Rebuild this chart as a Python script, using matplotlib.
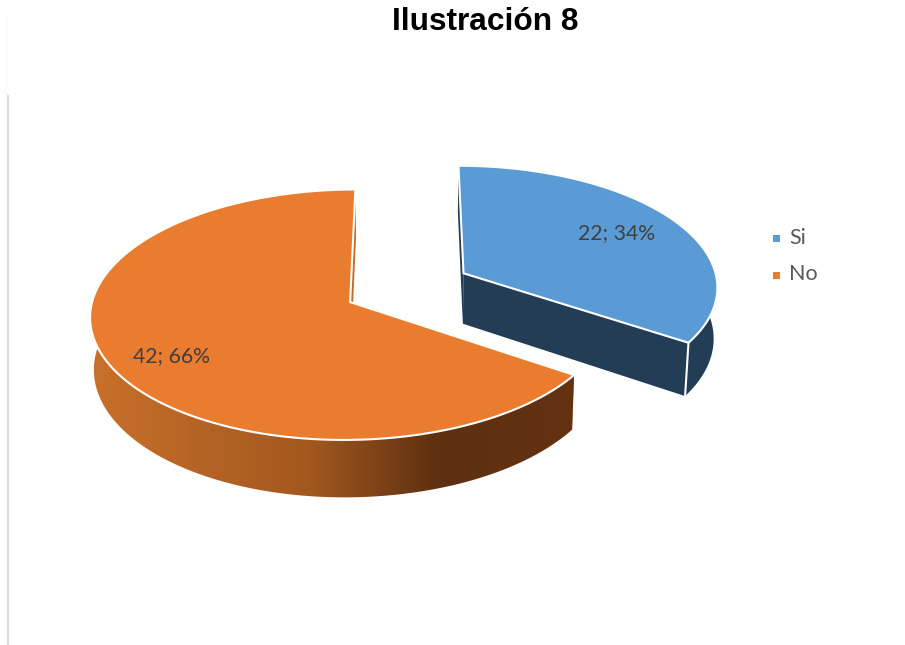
import numpy as np
import matplotlib
matplotlib.use("Agg")
import matplotlib.pyplot as plt
from matplotlib.patches import Polygon, Rectangle
from matplotlib.colors import LinearSegmentedColormap

labels = ["Si", "No"]
values = [22, 42]
title = "Ilustración 8"

top_colors = ["#5b9bd5", "#ea7c30"]
side_color = "#223d55"
cut_color = "#223d55"

# projection of the tilted pie, in pixels
X0, Y0 = 407.5, 287.5
R, S = 255.0, 121.0
K = 0.10
DEPTH = 51.0
SHRINK = 0.988
EXPLODE = 0.252


def project(u, v, lower=False):
    u = np.asarray(u, dtype=float)
    v = np.asarray(v, dtype=float)
    w = 1 + K * v
    x = R * u / w
    y = -S * v / w
    if lower:
        x = x * SHRINK
        y = y + DEPTH / w
    return np.column_stack([X0 + x, Y0 + y])


def arc(a0, a1, cu, cv, lower=False):
    a = np.radians(np.linspace(a0, a1, 200))
    return project(cu + np.sin(a), cv + np.cos(a), lower)


fig = plt.figure(figsize=(9.05, 6.45), dpi=100)
ax = fig.add_axes([0, 0, 1, 1])
ax.set_xlim(0, 905)
ax.set_ylim(645, 0)
ax.axis("off")

# remains of the chart frame on the left
ax.plot([8.3, 8.3], [95, 645], color="#dcdcdc", lw=1.6, solid_capstyle="butt")
ax.plot([6.3, 6.3], [15, 95], color="#f6f6f6", lw=0.8, solid_capstyle="butt")

total = sum(values)
fractions = [v / total for v in values]
edges = np.cumsum([0] + fractions) * 360

side_cmap = LinearSegmentedColormap.from_list(
    "orange_side",
    [(0.0, "#c8702b"), (0.45, "#a3581f"), (0.72, "#5e3010"), (1.0, "#63320f")],
)

# the larger slice goes first, the other one sits behind nothing
for i in [1, 0]:
    a0, a1 = edges[i], edges[i + 1]
    mid = np.radians((a0 + a1) / 2)
    cu, cv = EXPLODE * np.sin(mid), EXPLODE * np.cos(mid)

    apex = project([cu], [cv])
    apex_low = project([cu], [cv], True)
    start = arc(a0, a0, cu, cv)[:1]
    start_low = arc(a0, a0, cu, cv, True)[:1]
    end = arc(a1, a1, cu, cv)[:1]
    end_low = arc(a1, a1, cu, cv, True)[:1]

    # cut faces
    face_col = "#c46a28" if i == 1 else cut_color
    for p, p_low in [(start, start_low), (end, end_low)]:
        pts = np.vstack([apex, p, p_low, apex_low])
        ax.add_patch(Polygon(pts, closed=True, fc=face_col, ec="none", zorder=2))

    # outer wall, only the part facing the viewer
    wall_a0, wall_a1 = (a0, 285) if i == 1 else (85, a1)
    wall = np.vstack([arc(wall_a0, wall_a1, cu, cv),
                      arc(wall_a0, wall_a1, cu, cv, True)[::-1]])
    if i == 1:
        im = ax.imshow(np.linspace(0, 1, 256)[None, :], cmap=side_cmap, vmin=0, vmax=1,
                       extent=[wall[:, 0].min(), wall[:, 0].max(), 645, 0],
                       aspect="auto", zorder=3)
        clip = Polygon(wall, closed=True, transform=ax.transData)
        im.set_clip_path(clip)
    else:
        ax.add_patch(Polygon(wall, closed=True, fc=side_color, ec="none", zorder=3))

    # top of the slice
    top = np.vstack([apex, arc(a0, a1, cu, cv)])
    ax.add_patch(Polygon(top, closed=True, fc=top_colors[i], ec="white", lw=1.5,
                         joinstyle="miter", zorder=4))

    if i == 0:
        ax.plot([end[0, 0], end_low[0, 0]], [end[0, 1], end_low[0, 1]],
                color="white", lw=1.5, zorder=5)

ax.set_xlim(0, 905)
ax.set_ylim(645, 0)

label_pos = [(617, 233), (171, 356)]
for name, val, frac, pos in zip(labels, values, fractions, label_pos):
    ax.text(pos[0], pos[1], f"{val}; {round(frac * 100)}%", ha="center", va="center",
            fontsize=15.3, family="Lato", color="#404040", zorder=6)

legend_y = [238, 275]
for name, col, y in zip(labels, top_colors, legend_y):
    ax.add_patch(Rectangle((773, y - 3.5), 7, 7, fc=col, ec="none", zorder=6))
    ax.text(789, y - 0.5, name, ha="left", va="center", fontsize=15.5, family="Lato",
            color="#595959", zorder=6)

ax.text(485.5, 22, title, ha="center", va="center", fontsize=22.8, fontweight="bold",
        family="Liberation Sans", color="black")

fig.savefig("out.png", dpi=100)
